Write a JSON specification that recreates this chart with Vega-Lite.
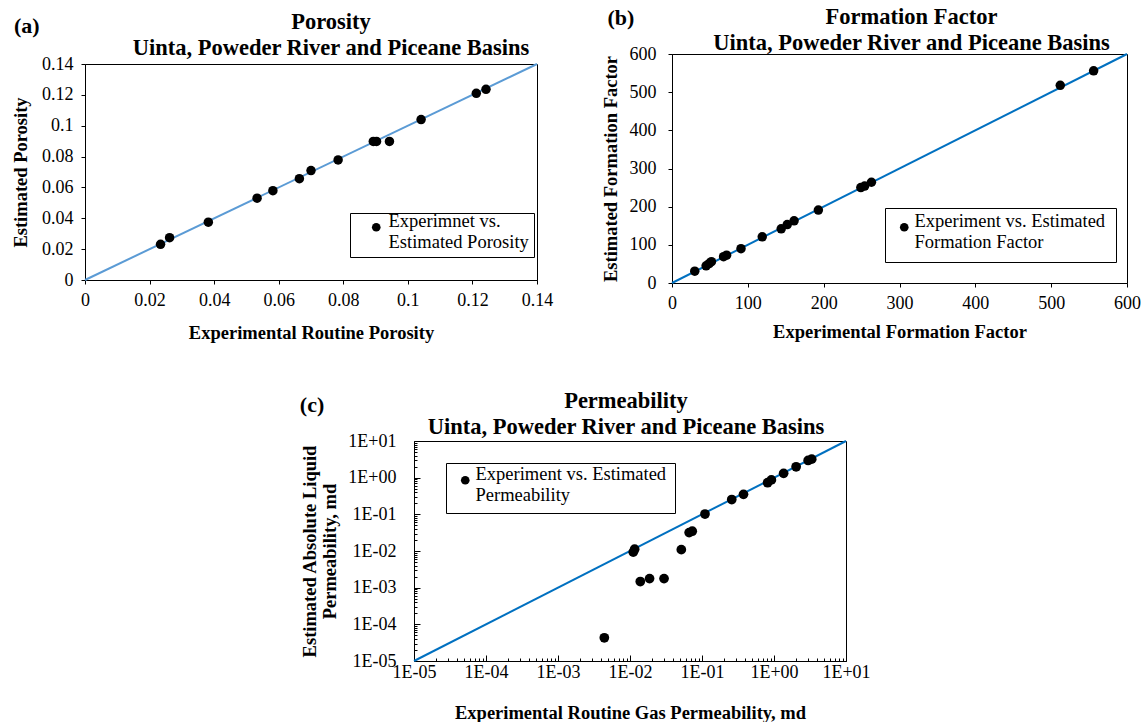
{
  "$schema": "https://vega.github.io/schema/vega-lite/v6.json",
  "background": "white",
  "padding": {"left": 11, "top": 4, "right": 2, "bottom": 0},
  "config": {
    "font": "Liberation Serif",
    "view": {"stroke": "black", "strokeWidth": 1},
    "axis": {
      "grid": false, "domainColor": "black", "domainWidth": 1, "tickColor": "black", "tickWidth": 1,
      "labelColor": "black", "titleColor": "black", "labelFont": "Liberation Serif", "titleFont": "Liberation Serif",
      "labelFontSize": 18, "titleFontSize": 18.5, "titleFontWeight": "bold", "tickSize": 4, "labelFlush": false, "labelOverlap": false
    },
    "title": {"font": "Liberation Serif", "fontSize": 22.5, "fontWeight": "bold", "color": "black", "lineHeight": 26, "anchor": "middle"},
    "legend": {
      "orient": "none", "strokeColor": "black", "fillColor": "white", "cornerRadius": 0,
      "labelFont": "Liberation Serif", "labelFontSize": 18.5, "labelColor": "black", "labelLimit": 0,
      "symbolType": "circle", "symbolFillColor": "black", "symbolStrokeColor": "black", "symbolStrokeWidth": 0, "symbolSize": 75,
      "labelBaseline": "alphabetic", "labelOffset": 1
    }
  },
  "spacing": 47,
  "resolve": {"scale": {"color": "independent"}, "legend": {"color": "independent"}},
  "vconcat": [
    {
      "columns": 2,
      "align": "none",
      "spacing": 46,
      "resolve": {"scale": {"color": "independent"}, "legend": {"color": "independent"}},
      "concat": [
        {
          "title": {"text": "(a)", "anchor": "start", "fontSize": 22, "dy": 38, "dx": 3},
          "spacing": 5,
          "resolve": {"scale": {"color": "independent"}, "legend": {"color": "independent"}},
          "vconcat": [
            {
              "width": 2, "height": 1,
              "view": {"stroke": null},
              "data": {"values": [{"a": 1}]},
              "mark": {"type": "point", "opacity": 0, "size": 0, "strokeWidth": 0},
              "encoding": {}
            },
            {
              "width": 452, "height": 216,
              "title": {"text": ["Porosity", "Uinta, Poweder River and Piceane Basins"], "offset": -4, "dx": 20},
              "layer": [
                {
                  "data": {"values": [{"x": 0, "y": 0}, {"x": 0.14, "y": 0.14}]},
                  "mark": {"type": "line", "color": "#5B9BD5", "strokeWidth": 2},
                  "encoding": {
                    "x": {"field": "x", "type": "quantitative", "scale": {"domain": [0, 0.14], "nice": false},
                      "axis": {"values": [0, 0.02, 0.04, 0.06, 0.08, 0.1, 0.12, 0.14], "tickCount": 100, "format": ".2~f", "labelOverlap": false, "title": "Experimental Routine Porosity", "labelPadding": 7, "titlePadding": 14}},
                    "y": {"field": "y", "type": "quantitative", "scale": {"domain": [0, 0.14], "nice": false},
                      "axis": {"values": [0, 0.02, 0.04, 0.06, 0.08, 0.1, 0.12, 0.14], "tickCount": 100, "format": ".2~f", "labelOverlap": false, "title": "Estimated Porosity", "labelPadding": 8, "titlePadding": 11}}
                  }
                },
                {
                  "data": {"values": [
                    {"x": 0.0234, "y": 0.0231}, {"x": 0.0262, "y": 0.0274}, {"x": 0.0382, "y": 0.0375},
                    {"x": 0.0533, "y": 0.0530}, {"x": 0.0582, "y": 0.0579}, {"x": 0.0664, "y": 0.0657},
                    {"x": 0.0700, "y": 0.0709}, {"x": 0.0784, "y": 0.0778}, {"x": 0.0893, "y": 0.0898},
                    {"x": 0.0903, "y": 0.0898}, {"x": 0.0943, "y": 0.0898}, {"x": 0.1041, "y": 0.1040},
                    {"x": 0.1212, "y": 0.1210}, {"x": 0.1242, "y": 0.1236}
                  ]},
                  "mark": {"type": "circle", "size": 90, "color": "black", "opacity": 1},
                  "encoding": {
                    "x": {"field": "x", "type": "quantitative"},
                    "y": {"field": "y", "type": "quantitative"},
                    "color": {"datum": "Experimnet vs. Estimated Porosity", "scale": {"range": ["black"]},
                      "legend": {"title": null, "legendX": 265, "legendY": 149, "padding": 5, "symbolOffset": 12, "labelOffset": 3,
                        "labelExpr": "['Experimnet vs.', 'Estimated Porosity']"}}
                  }
                }
              ]
            }
          ]
        },
        {
          "title": {"text": "(b)", "anchor": "start", "fontSize": 22, "dy": 30, "dx": 7},
          "spacing": 0,
          "resolve": {"scale": {"color": "independent"}, "legend": {"color": "independent"}},
          "vconcat": [
            {
              "width": 2, "height": 1,
              "view": {"stroke": null},
              "data": {"values": [{"a": 1}]},
              "mark": {"type": "point", "opacity": 0, "size": 0, "strokeWidth": 0},
              "encoding": {}
            },
            {
              "width": 455, "height": 229,
              "title": {"text": ["Formation Factor", "Uinta, Poweder River and Piceane Basins"], "offset": -9, "dx": 12},
              "layer": [
                {
                  "data": {"values": [{"x": 0, "y": 0}, {"x": 600, "y": 600}]},
                  "mark": {"type": "line", "color": "#0070C0", "strokeWidth": 2},
                  "encoding": {
                    "x": {"field": "x", "type": "quantitative", "scale": {"domain": [0, 600], "nice": false},
                      "axis": {"values": [0, 100, 200, 300, 400, 500, 600], "tickCount": 100, "labelOverlap": false, "title": "Experimental Formation Factor", "labelPadding": 7, "titlePadding": 10}},
                    "y": {"field": "y", "type": "quantitative", "scale": {"domain": [0, 600], "nice": false},
                      "axis": {"values": [0, 100, 200, 300, 400, 500, 600], "tickCount": 100, "labelOverlap": false, "title": "Estimated Formation Factor", "labelPadding": 12, "titlePadding": 9}}
                  }
                },
                {
                  "data": {"values": [
                    {"x": 30, "y": 31}, {"x": 45, "y": 45}, {"x": 49, "y": 51}, {"x": 52, "y": 56},
                    {"x": 68, "y": 69}, {"x": 72, "y": 73}, {"x": 91, "y": 90}, {"x": 119, "y": 121},
                    {"x": 144, "y": 142}, {"x": 152, "y": 153}, {"x": 161, "y": 163}, {"x": 193, "y": 191},
                    {"x": 249, "y": 250}, {"x": 254, "y": 254}, {"x": 263, "y": 264}, {"x": 512, "y": 518},
                    {"x": 556, "y": 556}
                  ]},
                  "mark": {"type": "circle", "size": 90, "color": "black", "opacity": 1},
                  "encoding": {
                    "x": {"field": "x", "type": "quantitative"},
                    "y": {"field": "y", "type": "quantitative"},
                    "color": {"datum": "Experiment vs. Estimated Formation Factor", "scale": {"range": ["black"]},
                      "legend": {"title": null, "legendX": 213, "legendY": 154, "padding": 10, "symbolOffset": 0,
                        "labelExpr": "['Experiment vs. Estimated', 'Formation Factor']"}}
                  }
                }
              ]
            }
          ]
        }
      ]
    },
    {
      "spacing": 0,
      "resolve": {"scale": {"color": "independent"}, "legend": {"color": "independent"}},
      "hconcat": [
        {
          "width": 214, "height": 20,
          "view": {"stroke": null},
          "data": {"values": [{"a": 1}]},
          "mark": {"type": "point", "opacity": 0, "size": 0, "strokeWidth": 0},
          "encoding": {}
        },
        {
          "title": {"text": "(c)", "anchor": "start", "fontSize": 22, "dy": 32, "dx": 0},
          "resolve": {"scale": {"color": "independent"}, "legend": {"color": "independent"}},
          "vconcat": [
            {
              "width": 432, "height": 220,
              "title": {"text": ["Permeability", "Uinta, Poweder River and Piceane Basins"], "offset": -6, "dx": -4},
              "layer": [
                {
                  "data": {"values": [{"x": 0.00001, "y": 0.00001}, {"x": 10, "y": 10}]},
                  "mark": {"type": "line", "color": "#0070C0", "strokeWidth": 2},
                  "encoding": {
                    "x": {"field": "x", "type": "quantitative", "scale": {"type": "log", "domain": [0.00001, 10], "nice": false},
                      "axis": {
                        "values": [0.00001, 0.00002, 0.00003, 0.00004, 0.00005, 0.00006, 0.00007, 0.00008, 0.00009,
                          0.0001, 0.0002, 0.0003, 0.0004, 0.0005, 0.0006, 0.0007, 0.0008, 0.0009,
                          0.001, 0.002, 0.003, 0.004, 0.005, 0.006, 0.007, 0.008, 0.009,
                          0.01, 0.02, 0.03, 0.04, 0.05, 0.06, 0.07, 0.08, 0.09,
                          0.1, 0.2, 0.3, 0.4, 0.5, 0.6, 0.7, 0.8, 0.9,
                          1, 2, 3, 4, 5, 6, 7, 8, 9, 10],
                        "tickCount": 1000,
                        "labelOverlap": false,
                        "labelExpr": "abs(log(datum.value)/LN10 - round(log(datum.value)/LN10)) < 0.001 ? '1E' + (datum.value < 0.5 ? '-' : '+') + (abs(round(log(datum.value)/LN10)) < 10 ? '0' : '') + abs(round(log(datum.value)/LN10)) : ''",
                        "tickSize": {"condition": {"test": "abs(log(datum.value)/LN10 - round(log(datum.value)/LN10)) < 0.001", "value": -6}, "value": -3},
                        "title": "Experimental Routine Gas Permeability, md", "labelPadding": 8, "titlePadding": 19}},
                    "y": {"field": "y", "type": "quantitative", "scale": {"type": "log", "domain": [0.00001, 10], "nice": false},
                      "axis": {
                        "values": [0.00001, 0.00002, 0.00003, 0.00004, 0.00005, 0.00006, 0.00007, 0.00008, 0.00009,
                          0.0001, 0.0002, 0.0003, 0.0004, 0.0005, 0.0006, 0.0007, 0.0008, 0.0009,
                          0.001, 0.002, 0.003, 0.004, 0.005, 0.006, 0.007, 0.008, 0.009,
                          0.01, 0.02, 0.03, 0.04, 0.05, 0.06, 0.07, 0.08, 0.09,
                          0.1, 0.2, 0.3, 0.4, 0.5, 0.6, 0.7, 0.8, 0.9,
                          1, 2, 3, 4, 5, 6, 7, 8, 9, 10],
                        "tickCount": 1000,
                        "labelOverlap": false,
                        "labelExpr": "abs(log(datum.value)/LN10 - round(log(datum.value)/LN10)) < 0.001 ? '1E' + (datum.value < 0.5 ? '-' : '+') + (abs(round(log(datum.value)/LN10)) < 10 ? '0' : '') + abs(round(log(datum.value)/LN10)) : ''",
                        "tickSize": {"condition": {"test": "abs(log(datum.value)/LN10 - round(log(datum.value)/LN10)) < 0.001", "value": -6}, "value": -3},
                        "title": ["Estimated Absolute Liquid", "Permeability, md"], "labelPadding": 24, "titlePadding": 8}}
                  }
                },
                {
                  "data": {"values": [
                    {"x": 0.0044, "y": 0.000043}, {"x": 0.0111, "y": 0.0093}, {"x": 0.0116, "y": 0.0112},
                    {"x": 0.0139, "y": 0.00147}, {"x": 0.0187, "y": 0.00177}, {"x": 0.0297, "y": 0.00177},
                    {"x": 0.0516, "y": 0.0109}, {"x": 0.0663, "y": 0.0318}, {"x": 0.0732, "y": 0.0347},
                    {"x": 0.110, "y": 0.102}, {"x": 0.259, "y": 0.253}, {"x": 0.377, "y": 0.351},
                    {"x": 0.815, "y": 0.728}, {"x": 0.920, "y": 0.868}, {"x": 1.36, "y": 1.31},
                    {"x": 2.03, "y": 1.98}, {"x": 2.98, "y": 2.94}, {"x": 3.34, "y": 3.20}
                  ]},
                  "mark": {"type": "circle", "size": 95, "color": "black", "opacity": 1},
                  "encoding": {
                    "x": {"field": "x", "type": "quantitative"},
                    "y": {"field": "y", "type": "quantitative"},
                    "color": {"datum": "Experiment vs. Estimated Permeability", "scale": {"range": ["black"]},
                      "legend": {"title": null, "legendX": 32, "legendY": 22, "padding": 8, "symbolOffset": 2,
                        "labelExpr": "['Experiment vs. Estimated', 'Permeability']"}}
                  }
                }
              ]
            }
          ]
        }
      ]
    }
  ]
}
